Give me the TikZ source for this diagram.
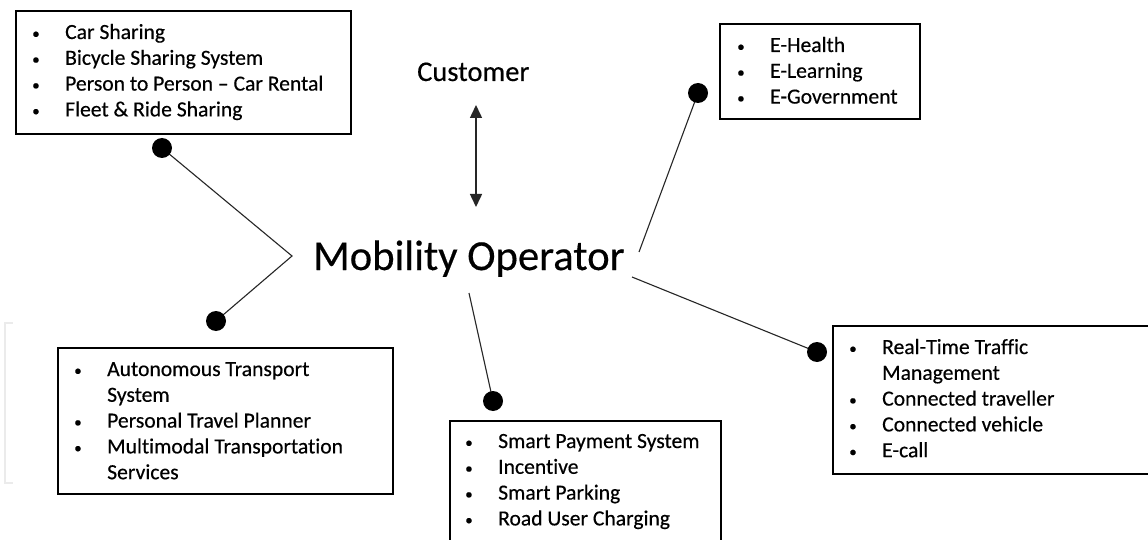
\documentclass[tikz,border=0pt]{standalone}
\usepackage{fontspec}
\setmainfont{Carlito}[Ligatures={NoCommon}, FakeBold=0.4]
\usetikzlibrary{calc,arrows.meta}
\newcommand\blt{\llap{\raisebox{0.5pt}{\fontsize{15}{15}\selectfont\textbullet}\hspace{25.5pt}}}
\begin{document}
\begin{tikzpicture}[x=1pt,y=-1pt,
  box/.style={draw=black, line width=2.4pt, inner sep=0pt, anchor=north west},
  lst/.style={anchor=base west, inner sep=0pt, font=\fontsize{21.6}{25.8}\selectfont},
  dot/.style={circle, fill=black, minimum size=20pt, inner sep=0pt},
  conn/.style={draw=black!85, line width=1.1pt},
  faint/.style={draw=black!8, line width=2pt}]
\useasboundingbox (0,0) rectangle (1148,540);
\clip (0,0) rectangle (1148,540);
\fill[white] (0,0) rectangle (1148,540);

% faint bracket (scan artefact)
\draw[faint] (12.5,323) -- (5,323) -- (5,483) -- (12.5,483);

% boxes
\node[box, minimum width=335pt, minimum height=123pt] (b1) at (15,10) {};
\node[box, minimum width=200pt, minimum height=95pt] (b2) at (719,23) {};
\node[box, minimum width=335pt, minimum height=146pt] (b3) at (57,347) {};
\node[box, minimum width=271pt, minimum height=140pt] (b4) at (449,420) {};
\node[box, minimum width=340pt, minimum height=148pt] (b5) at (832,325) {};

% lists
\node[lst] (t1) at ($(b1.north west)+(50,29)$) {\begin{tabular}[t]{@{}l@{}}
\blt Car Sharing\\ \blt Bicycle Sharing System\\ \blt Person to Person -- Car Rental\\ \blt Fleet \& Ride Sharing\end{tabular}};
\node[lst] (t2) at ($(b2.north west)+(51,29)$) {\begin{tabular}[t]{@{}l@{}}
\blt E-Health\\ \blt E-Learning\\ \blt E-Government\end{tabular}};
\node[lst] (t3) at ($(b3.north west)+(50,29)$) {\begin{tabular}[t]{@{}l@{}}
\blt Autonomous Transport\\ System\\ \blt Personal Travel Planner\\ \blt Multimodal Transportation\\ Services\end{tabular}};
\node[lst] (t4) at ($(b4.north west)+(49,28)$) {\begin{tabular}[t]{@{}l@{}}
\blt Smart Payment System\\ \blt Incentive\\ \blt Smart Parking\\ \blt Road User Charging\end{tabular}};
\node[lst] (t5) at ($(b5.north west)+(50,29)$) {\begin{tabular}[t]{@{}l@{}}
\blt Real-Time Traffic\\ Management\\ \blt Connected traveller\\ \blt Connected vehicle\\ \blt E-call\end{tabular}};

% central texts
\node[anchor=base west, inner sep=0pt, font=\fontsize{28.5}{34}\selectfont] (cust) at (417,81) {Customer};
\node[anchor=base west, inner sep=0pt, font=\fontsize{42.7}{51}\selectfont] (mo) at (313,270) {Mobility Operator};

% connector points
\coordinate (dA) at (162,148);
\coordinate (dB) at (216,321);
\coordinate (dE) at (698,93);
\coordinate (dR) at (817,352);
\coordinate (dM) at (493,401);
\coordinate (v) at (292,256);
\coordinate (eE) at (639,252);
\coordinate (eR) at (632,277);
\coordinate (eM) at (469,293);
\coordinate (aT) at (476,105);
\coordinate (aB) at (476,207);

\draw[conn] (dA) -- (v) -- (dB);
\draw[conn] (eE) -- (dE);
\draw[conn] (eR) -- (dR);
\draw[conn] (eM) -- (dM);
\draw[draw=black!85, line width=1.5pt, {Triangle[length=13pt,width=12pt]}-{Triangle[length=13pt,width=12pt]}] (aT) -- (aB);

\node[dot] (nA) at (dA) {};
\node[dot] (nB) at (dB) {};
\node[dot] (nE) at (dE) {};
\node[dot] (nR) at (dR) {};
\node[dot] (nM) at (dM) {};
\end{tikzpicture}
\end{document}
